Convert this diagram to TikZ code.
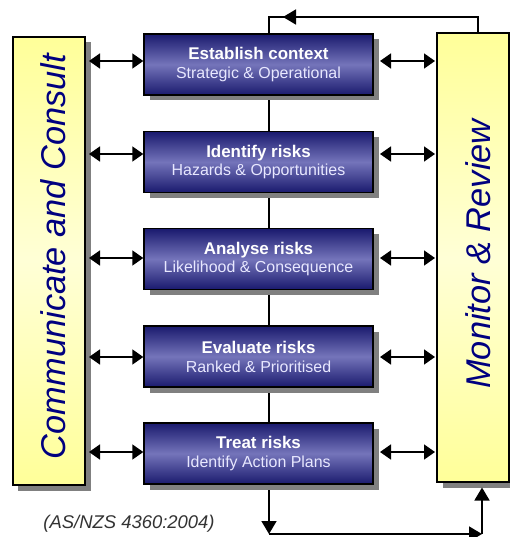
\documentclass[tikz,border=0pt]{standalone}
\usepackage{fontspec}
\setmainfont{Liberation Sans}
\usetikzlibrary{arrows.meta,shadows,backgrounds,calc}
\definecolor{navyd}{HTML}{1A1A6E}
\definecolor{navyl}{HTML}{7474BA}
\definecolor{ylw}{HTML}{FFFF99}
\definecolor{ylwl}{HTML}{FFFFD6}
\definecolor{txtblue}{HTML}{000080}
\definecolor{shd}{HTML}{808080}
\definecolor{subc}{HTML}{E8E8FF}
\definecolor{notec}{HTML}{333333}
\begin{document}
\begin{tikzpicture}[x=1bp,y=-1bp,
  ln/.style={line width=1.6bp, draw=black},
  boxshadow/.style={drop shadow={shadow xshift=5.5bp, shadow yshift=-5.5bp, fill=shd, opacity=1}},
  stepbox/.style={boxshadow, draw=black, line width=1.4bp, minimum width=229bp, minimum height=61bp,
    inner sep=0pt, top color=navyd, bottom color=navyd, middle color=navyl,
    align=center, text=white, font=\fontsize{16}{19}\selectfont},
  sidebox/.style={boxshadow, draw=black, line width=1.4bp, minimum width=72bp, inner sep=0pt,
    top color=ylw, bottom color=ylw, middle color=ylwl},
  sidetext/.style={rotate=90, inner sep=0pt, text=txtblue, font=\fontsize{34.5}{40}\selectfont\itshape},
  notetext/.style={inner sep=0pt, text=notec, font=\fontsize{18.5}{22}\selectfont\itshape},
  dbl/.style={ln, {Triangle[length=11bp,width=15bp]}-{Triangle[length=11bp,width=15bp]}},
  onetip/.style={ln, -{Triangle[length=13bp,width=15bp]}}
]
\useasboundingbox (0,0) rectangle (510,537);

% side boxes
\node[sidebox, minimum height=448bp] (cc) at (49,261) {};
\node[sidebox, minimum height=449bp] (mr) at (473,257.5) {};
\node[sidetext] (cct) at (53.5,256.5) {Communicate and Consult};
\node[sidetext] (mrt) at (478.5,254) {Monitor \& Review};

% step boxes
\node[stepbox] (s1) at (258.5,64.5) {{\bfseries\fontsize{17}{19}\selectfont Establish context}\\{\color{subc}Strategic \& Operational}};
\node[stepbox] (s2) at (258.5,162) {{\bfseries\fontsize{17}{19}\selectfont Identify risks}\\{\color{subc}Hazards \& Opportunities}};
\node[stepbox] (s3) at (258.5,259) {{\bfseries\fontsize{17}{19}\selectfont Analyse risks}\\{\color{subc}Likelihood \& Consequence}};
\node[stepbox] (s4) at (258.5,356.5) {{\bfseries\fontsize{17}{19}\selectfont Evaluate risks}\\{\color{subc}Ranked \& Prioritised}};
\node[stepbox] (s5) at (258.5,453.5) {{\bfseries\fontsize{17}{19}\selectfont Treat risks}\\{\color{subc}Identify Action Plans}};

\node[notetext] (note) at (129,524) {(AS/NZS 4360:2004)};

% helper coordinates
\coordinate (vx) at (269,0);
\coordinate (ccx) at (89,0);
\coordinate (sx) at (380,0);
\coordinate (mx) at (435,0);
\coordinate (r1) at (0,61);
\coordinate (r2) at (0,154);
\coordinate (r3) at (0,258);
\coordinate (r4) at (0,357);
\coordinate (r5) at (0,452);
\coordinate (t2) at (478,17);
\coordinate (ta) at (300,17);
\coordinate (tb) at (283,17);
\coordinate (b1) at (269,534);
\coordinate (b2) at (482,534);
\coordinate (b3) at (482,487.5);

% white page and connectors behind boxes
\begin{scope}[on background layer]
\fill[white] (0,0) rectangle (510,537);
\draw[ln] (s1.south -| vx) -- (s2.north -| vx);
\draw[ln] (s2.south -| vx) -- (s3.north -| vx);
\draw[ln] (s3.south -| vx) -- (s4.north -| vx);
\draw[ln] (s4.south -| vx) -- (s5.north -| vx);
\draw[ln] (s1.north -| vx) |- (t2) -- (t2 |- mr.north);
\draw[onetip] (s5.south -| vx) -- (b1);
\end{scope}
\draw[onetip] (ta) -- (tb);
\draw[onetip] (b1) -- (b2);
\draw[onetip] (b2) -- (b3);

% double arrows
\draw[dbl] (ccx |- r1) -- (s1.west |- r1);
\draw[dbl] (ccx |- r2) -- (s2.west |- r2);
\draw[dbl] (ccx |- r3) -- (s3.west |- r3);
\draw[dbl] (ccx |- r4) -- (s4.west |- r4);
\draw[dbl] (ccx |- r5) -- (s5.west |- r5);
\draw[dbl] (sx |- r1) -- (mx |- r1);
\draw[dbl] (sx |- r2) -- (mx |- r2);
\draw[dbl] (sx |- r3) -- (mx |- r3);
\draw[dbl] (sx |- r4) -- (mx |- r4);
\draw[dbl] (sx |- r5) -- (mx |- r5);
\end{tikzpicture}
\end{document}
